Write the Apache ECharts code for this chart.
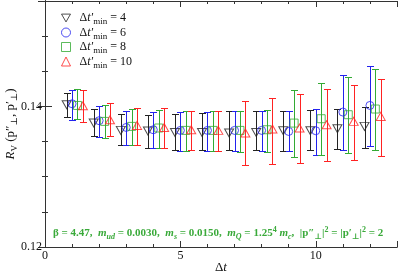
<!DOCTYPE html>
<html><head><meta charset="utf-8">
<script src="https://cdn.jsdelivr.net/npm/echarts@6/dist/echarts.min.js"></script>
<style>html,body{margin:0;padding:0;background:#fff}#c{width:399px;height:274px}</style>
</head><body><div id="c"></div>
<script>
// ---- data ----
const dt = [1,2,3,4,5,6,7,8,9,10,11,12];
const xTickLabels = [0,5,10];
const yTickLabels = [0.12,0.14];
const seriesNames = ['4','6','8','10'];

const val4 = [0.14024,0.13764,0.13659,0.13650,0.13630,0.13630,0.13622,0.13630,0.13654,0.13654,0.13683,0.13716];
const hi4  = [0.14191,0.13963,0.13892,0.13872,0.13892,0.13906,0.13929,0.13929,0.13939,0.13943,0.13967,0.13986];
const lo4  = [0.13849,0.13573,0.13455,0.13408,0.13384,0.13384,0.13374,0.13374,0.13370,0.13374,0.13394,0.13408];

const val6 = [0.14038,0.13797,0.13701,0.13668,0.13659,0.13659,0.13659,0.13659,0.13644,0.13654,0.13920,0.14014];
const hi6  = [0.14238,0.14000,0.13939,0.13920,0.13920,0.13920,0.13929,0.13929,0.13929,0.13963,0.14441,0.14569];
const lo6  = [0.13811,0.13559,0.13455,0.13413,0.13370,0.13370,0.13360,0.13360,0.13360,0.13313,0.13384,0.13441];

const val8 = [0.14014,0.13787,0.13716,0.13693,0.13659,0.13659,0.13659,0.13668,0.13763,0.13825,0.13882,0.13963];
const hi8  = [0.14242,0.14024,0.13967,0.13949,0.13939,0.13934,0.13939,0.13948,0.14238,0.14333,0.14413,0.14532];
const lo8  = [0.13815,0.13550,0.13455,0.13408,0.13360,0.13360,0.13351,0.13351,0.13280,0.13313,0.13337,0.13384];

const val10 = [0.14010,0.13811,0.13730,0.13701,0.13668,0.13659,0.13622,0.13678,0.13693,0.13740,0.13787,0.13858];
const hi10  = [0.14228,0.14043,0.13977,0.13977,0.13939,0.13934,0.14076,0.14115,0.14176,0.14248,0.14309,0.14390];
const lo10  = [0.13782,0.13573,0.13455,0.13413,0.13374,0.13370,0.13170,0.13175,0.13195,0.13218,0.13242,0.13289];

// ---- styling ----
const SERIF = '"Liberation Serif","DejaVu Serif",serif';
const cfg = [
  {name:seriesNames[0], val:val4,  lo:lo4,  hi:hi4,  shift:-0.2, color:'#222222', symbol:'path://M0,0 L10,0 L5,8.66 Z', size:[9,8]},
  {name:seriesNames[1], val:val6,  lo:lo6,  hi:hi6,  shift:0.0,  color:'#2222ee', symbol:'circle', size:8},
  {name:seriesNames[2], val:val8,  lo:lo8,  hi:hi8,  shift:0.2,  color:'#33aa33', symbol:'rect', size:8},
  {name:seriesNames[3], val:val10, lo:lo10, hi:hi10, shift:0.4,  color:'#ff2222', symbol:'triangle', size:[9,8]}
];

const series = [];
cfg.forEach(c => {
  series.push({
    name: c.name + '_err', type: 'custom', xAxisIndex: 0, yAxisIndex: 0, z: 2,
    data: dt.map((t,i) => [t + c.shift, c.lo[i], c.hi[i]]),
    renderItem: (params, api) => {
      const x = api.value(0);
      const p1 = api.coord([x, api.value(1)]);
      const p2 = api.coord([x, api.value(2)]);
      const px = Math.round(p1[0]) + 0.5;
      const y1 = Math.round(p1[1]) + 0.5, y2 = Math.round(p2[1]) + 0.5;
      const hw = 3.5;
      const st = {stroke: c.color, lineWidth: 1};
      return {type:'group', children:[
        {type:'line', shape:{x1:px,y1:y1,x2:px,y2:y2}, style:st},
        {type:'line', shape:{x1:px-hw,y1:y1,x2:px+hw,y2:y1}, style:st},
        {type:'line', shape:{x1:px-hw,y1:y2,x2:px+hw,y2:y2}, style:st}
      ]};
    }
  });
  series.push({
    name: c.name, type: 'scatter', xAxisIndex: 0, yAxisIndex: 0, z: 3,
    symbol: c.symbol, symbolSize: c.size,
    itemStyle: {color: 'rgba(255,255,255,0)', borderColor: c.color, borderWidth: 1},
    data: dt.map((t,i) => [t + c.shift, c.val[i]])
  });
});

const axisLine = {show: true, lineStyle: {color: '#333', width: 1}};
function xAx(pos, interval, len, labels) {
  return {type:'value', position: pos, min: 0, max: 13, interval: interval,
    axisLine: axisLine, splitLine: {show:false},
    axisTick: {show: true, inside: true, length: len, lineStyle: {color:'#333'}},
    axisLabel: labels ? {show: true, color:'#111', fontFamily: SERIF, fontSize: 12, margin: 3,
      showMaxLabel: false,
      formatter: v => xTickLabels.indexOf(v) >= 0 ? String(v) : ''} : {show:false},
    name: labels ? '{d|Δ}{i|t}' : '', nameLocation: 'middle', nameGap: 14, nameMoveOverlap: false,
    nameTextStyle: {rich: {d:{fontFamily:SERIF,fontSize:13,color:'#111'}, i:{fontFamily:SERIF,fontSize:13,fontStyle:'italic',color:'#111'}}}
  };
}
function yAx(pos, interval, len, labels) {
  return {type:'value', position: pos, min: 0.12, max: 0.155, interval: interval,
    axisLine: axisLine, splitLine: {show:false},
    axisTick: {show: true, inside: true, length: len, lineStyle: {color:'#333'}},
    axisLabel: labels ? {show: true, color:'#111', fontFamily: SERIF, fontSize: 12, margin: 3,
      showMaxLabel: false,
      formatter: v => yTickLabels.some(t => Math.abs(t - v) < 1e-7) ? v.toFixed(2) : ''} : {show:false},
    name: labels ? '{i|R}{s|V}{n| (p″}{s|⊥}{n|, p′}{s|⊥}{n|)}' : '',
    nameLocation: 'middle', nameGap: 26, nameRotate: 90, nameMoveOverlap: false,
    nameTextStyle: {rich: {
      n:{fontFamily:SERIF,fontSize:13,color:'#111',lineHeight:16},
      i:{fontFamily:SERIF,fontSize:13,fontStyle:'italic',color:'#111',lineHeight:16},
      s:{fontFamily:SERIF,fontSize:9,color:'#111',verticalAlign:'bottom',padding:[8,0,0,0]}
    }}
  };
}

const richLeg = {
  d:{fontFamily:SERIF,fontSize:12,color:'#111',lineHeight:16},
  p:{fontFamily:SERIF,fontSize:12,color:'#111',lineHeight:16,padding:[0,0,0,4]},
  i:{fontFamily:SERIF,fontSize:12,fontStyle:'italic',color:'#111',lineHeight:16},
  s:{fontFamily:SERIF,fontSize:9,color:'#111',verticalAlign:'bottom',padding:[8,0,0,0]}
};

const G = '#3aaa3a';
const richAnn = {
  n:{fontFamily:SERIF,fontSize:11,color:G,lineHeight:14},
  i:{fontFamily:SERIF,fontSize:11,fontStyle:'italic',color:G,lineHeight:14},
  s:{fontFamily:SERIF,fontSize:8,fontStyle:'italic',color:G,verticalAlign:'bottom',padding:[7,0,0,0]},
  u:{fontFamily:SERIF,fontSize:8,color:G,verticalAlign:'bottom',padding:[7,0,0,0]},
  t:{fontFamily:SERIF,fontSize:8,color:G,verticalAlign:'top',padding:[0,0,6,0]}
};
const annText = '{n|β = 4.47,  }{i|m}{s|ud}{n| = 0.0030,  }{i|m}{s|s}{n| = 0.0150,  }{i|m}{s|Q}{n| = 1.25}{t|4}{n| }{i|m}{s|c}{n|,  |p″}{u|⊥}{n||}{t|2}{n| = |p′}{u|⊥}{n||}{t|2}{n| = 2}';

const chart = echarts.init(document.getElementById('c'), null, {renderer:'canvas'});
chart.setOption({
  animation: false,
  backgroundColor: '#fff',
  grid: {left: 45, right: 2, top: 1, bottom: 27, containLabel: false, outerBoundsMode: 'none'},
  xAxis: [xAx('bottom', 1, 3, true), xAx('bottom', 5, 6, false), xAx('top', 1, 3, false), xAx('top', 5, 6, false)],
  yAxis: [yAx('left', 0.005, 3, true), yAx('left', 0.02, 7, false), yAx('right', 0.005, 3, false), yAx('right', 0.02, 7, false)],
  legend: {
    orient: 'vertical', left: 61, top: 12, itemGap: 0, itemWidth: 9, itemHeight: 9, padding: 0,
    data: cfg.map(c => ({name: c.name, icon: c.symbol,
      itemStyle: {color:'rgba(255,255,255,0)', borderColor: c.color, borderWidth: 1}})),
    formatter: n => '{p|Δ}{i|t′}{s|min}{d| = ' + n + '}',
    textStyle: {rich: richLeg}
  },
  title: {text: annText, left: 53, top: 226, padding: 0, textStyle: {rich: richAnn}},
  series: series
});
</script></body></html>
